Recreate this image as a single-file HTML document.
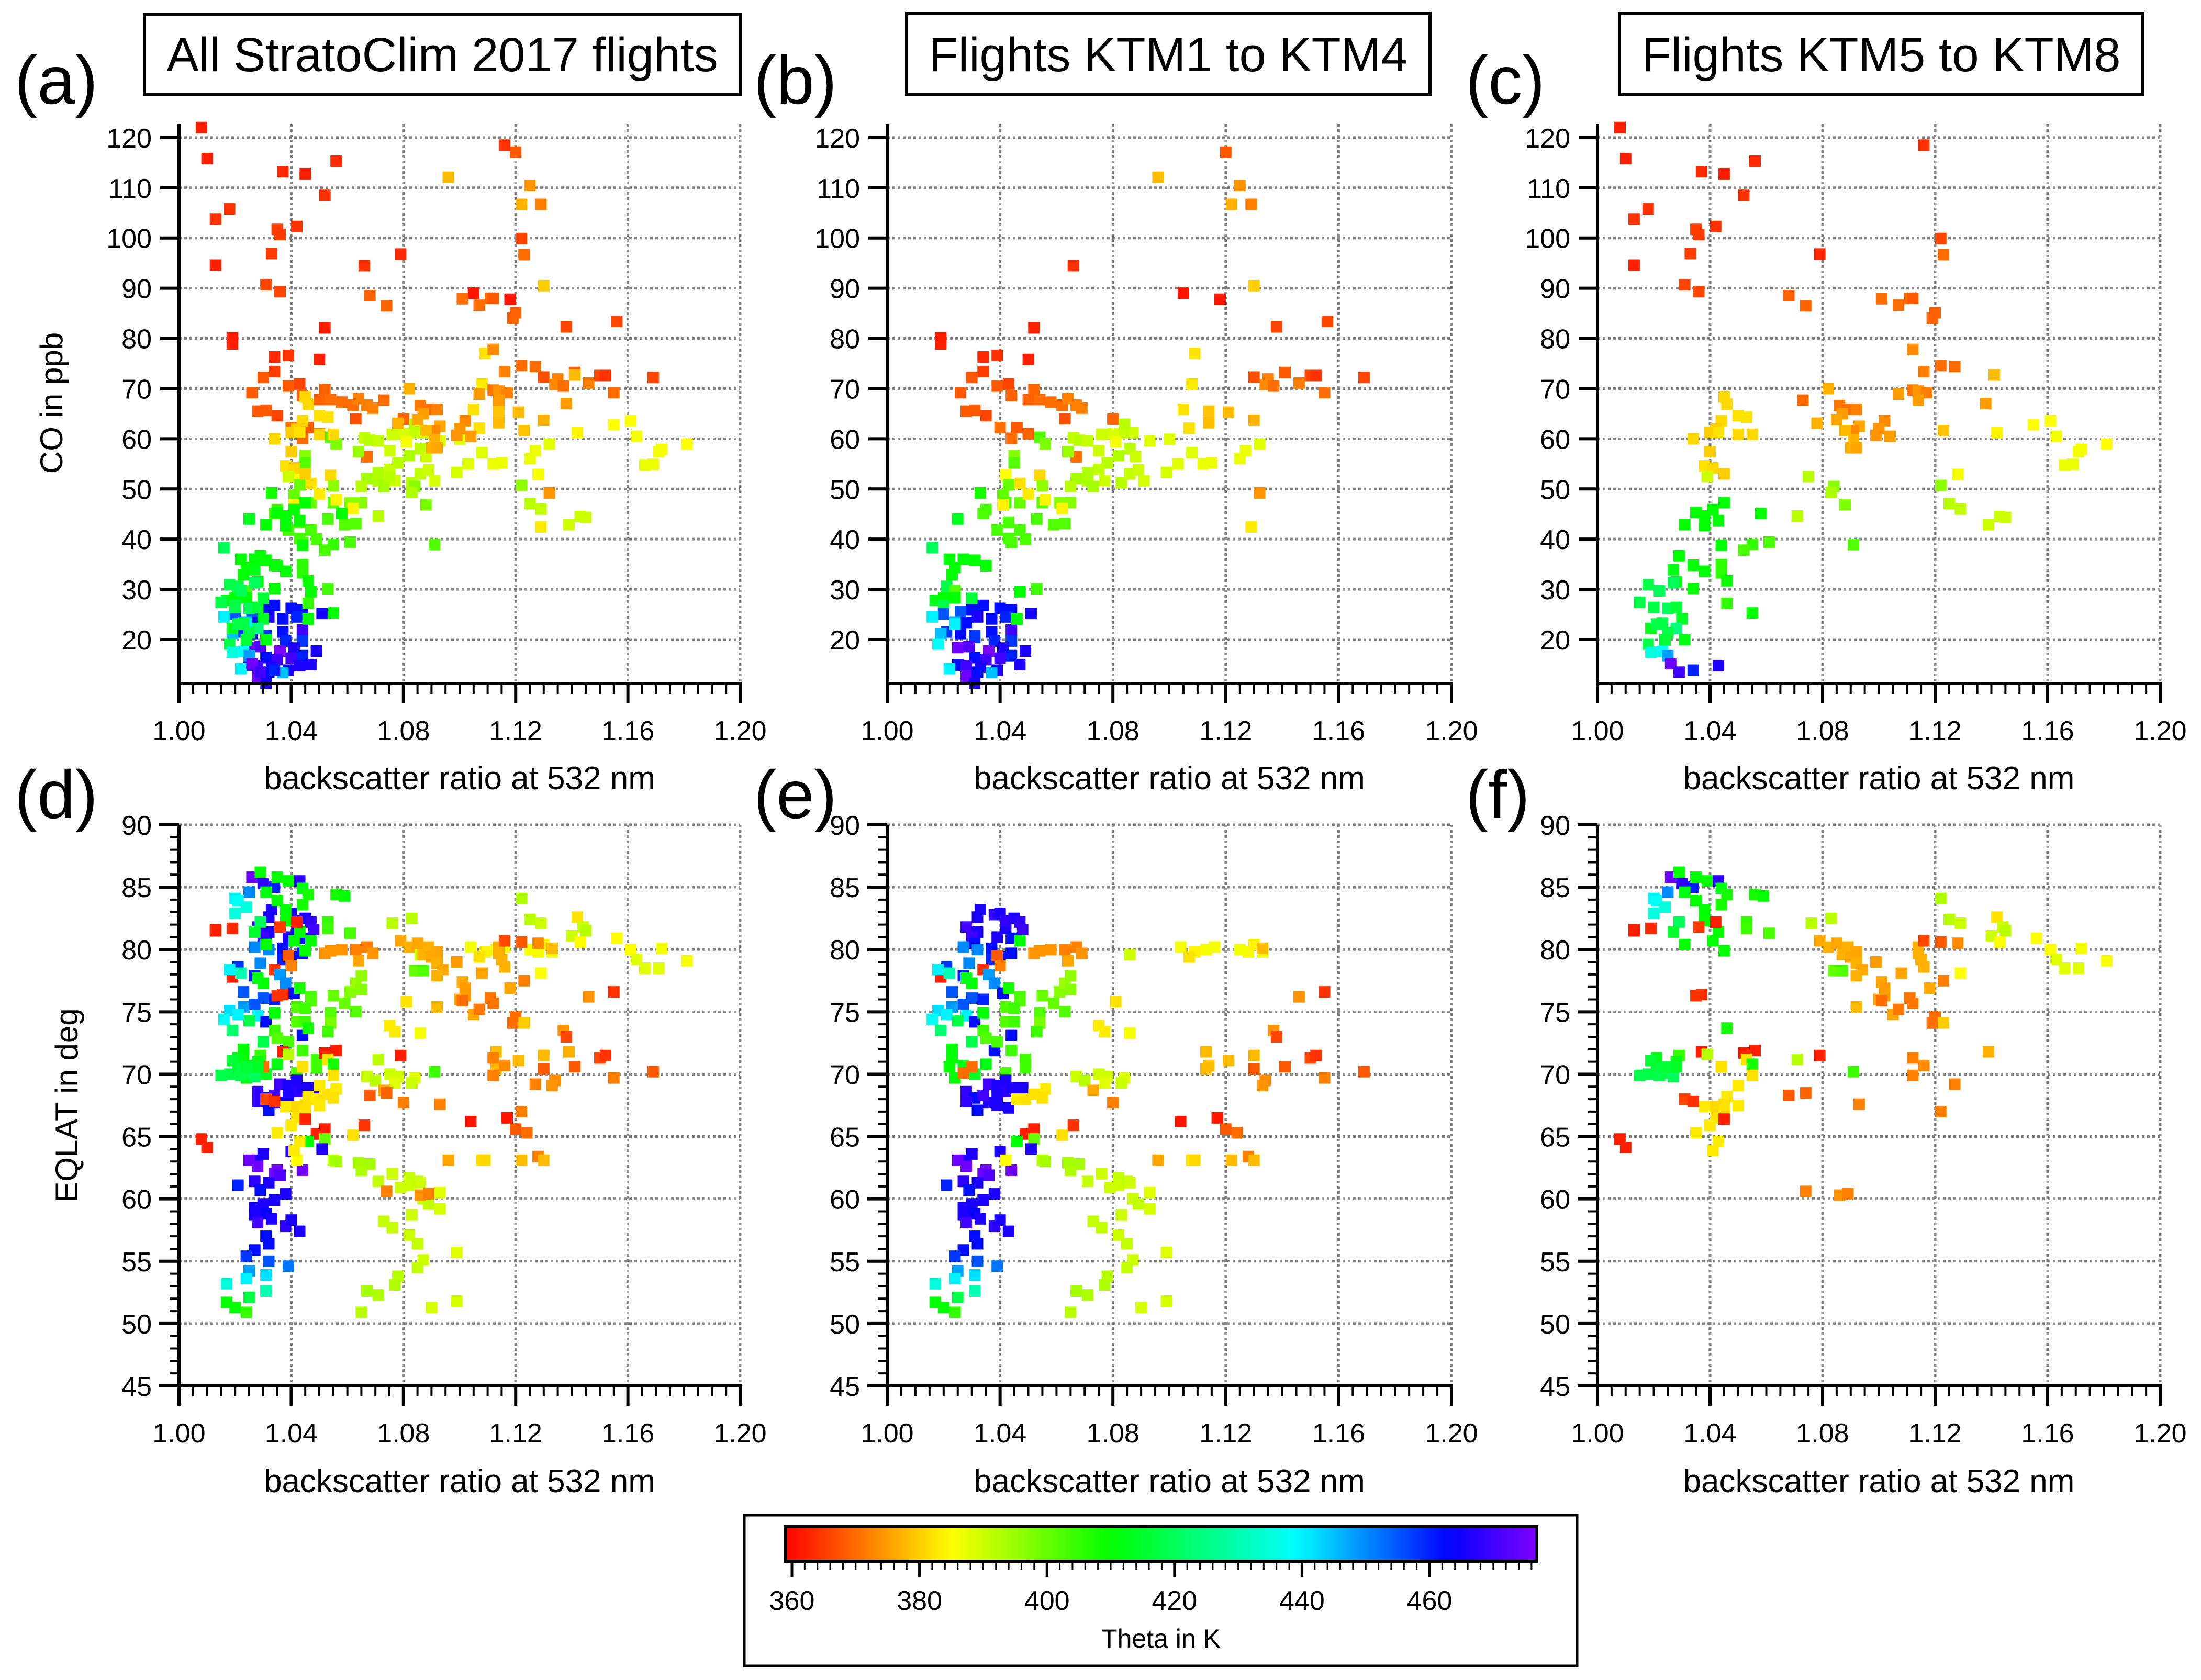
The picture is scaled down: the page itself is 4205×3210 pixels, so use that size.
<!DOCTYPE html>
<html><head><meta charset="utf-8"><style>
html,body{margin:0;padding:0;background:#fff;}
svg{display:block;font-family:"Liberation Sans",Arial,sans-serif;}
</style></head><body>
<svg id="fig" xmlns="http://www.w3.org/2000/svg" width="4205" height="3210" viewBox="0 0 4205 3210">
<rect x="0" y="0" width="4205" height="3210" fill="#fff"/>
<g><rect x="276" y="27" width="1138" height="154" fill="none" stroke="#000" stroke-width="6"/><text x="845" y="136" font-size="92" text-anchor="middle">All StratoClim 2017 flights</text></g>
<g><rect x="1732" y="26" width="1000" height="155" fill="none" stroke="#000" stroke-width="6"/><text x="2232" y="136" font-size="92" text-anchor="middle">Flights KTM1 to KTM4</text></g>
<g><rect x="3094" y="26" width="1000" height="155" fill="none" stroke="#000" stroke-width="6"/><text x="3594" y="136" font-size="92" text-anchor="middle">Flights KTM5 to KTM8</text></g>
<g font-size="130">
<text x="28" y="198">(a)</text><text x="1440" y="198">(b)</text><text x="2800" y="198">(c)</text>
<text x="28" y="1563">(d)</text><text x="1440" y="1563">(e)</text><text x="2800" y="1563">(f)</text>
</g>
<g id="panels"></g>
<g id="cbar"></g>
</svg>
<script>
// ---- data: [backscatter ratio, value, theta K] ----
const coKTM58 = [[1.008,122.0,362],[1.010,115.8,362],[1.037,113.2,363],[1.045,112.8,362],[1.056,115.3,363],[1.116,118.5,364],[1.052,108.5,364],[1.018,105.8,364],[1.013,103.8,364],[1.035,101.7,365],[1.036,100.7,365],[1.042,102.3,364],[1.033,96.9,365],[1.013,94.6,362],[1.079,96.8,363],[1.122,99.9,366],[1.123,96.7,370],[1.031,90.7,366],[1.036,89.3,366],[1.068,88.5,369],[1.074,86.5,369],[1.101,87.9,370],[1.107,86.6,370],[1.111,88.0,370],[1.112,88.0,368],[1.120,85.1,369],[1.119,84.0,369],[1.112,77.8,373],[1.122,74.6,370],[1.127,74.4,370],[1.116,73.4,372],[1.141,72.7,378],[1.082,70.0,377],[1.107,68.9,375],[1.112,69.7,371],[1.114,69.5,374],[1.117,69.2,372],[1.114,67.7,375],[1.138,67.0,375],[1.073,67.7,370],[1.086,66.6,371],[1.089,65.9,370],[1.092,65.9,372],[1.087,65.0,375],[1.085,63.8,376],[1.078,63.1,377],[1.093,62.5,376],[1.091,61.6,373],[1.088,61.6,378],[1.102,63.6,373],[1.100,62.0,374],[1.099,60.7,374],[1.104,60.5,375],[1.091,59.8,377],[1.090,58.2,377],[1.092,58.2,376],[1.123,61.6,379],[1.142,61.2,384],[1.155,62.8,385],[1.161,63.6,385],[1.163,60.5,386],[1.181,59.0,385],[1.172,57.9,386],[1.171,57.4,386],[1.166,54.8,387],[1.169,54.9,387],[1.128,52.9,386],[1.045,68.3,381],[1.046,66.9,381],[1.050,64.6,382],[1.053,64.3,382],[1.044,63.6,381],[1.042,61.9,380],[1.040,61.3,380],[1.043,61.3,382],[1.050,60.9,381],[1.055,60.9,381],[1.034,60.0,381],[1.040,57.4,380],[1.038,54.6,382],[1.041,54.2,381],[1.045,53.0,380],[1.039,52.5,390],[1.075,52.5,392],[1.084,50.5,397],[1.083,49.3,393],[1.122,50.7,396],[1.125,47.1,392],[1.129,46.0,391],[1.143,44.5,390],[1.145,44.3,390],[1.139,42.9,390],[1.088,46.9,398],[1.071,44.6,392],[1.045,47.3,410],[1.041,45.9,410],[1.035,45.3,410],[1.038,44.6,410],[1.043,43.7,410],[1.031,42.9,410],[1.038,42.7,410],[1.058,45.1,410],[1.061,39.4,403],[1.055,39.0,405],[1.052,37.8,403],[1.044,38.8,410],[1.091,38.9,402],[1.029,36.7,410],[1.027,33.9,412],[1.034,34.8,410],[1.038,33.6,410],[1.044,34.9,406],[1.044,33.3,406],[1.046,31.7,409],[1.028,31.5,412],[1.027,31.3,420],[1.034,30.2,410],[1.018,30.9,418],[1.022,29.7,420],[1.015,27.4,418],[1.020,26.4,418],[1.025,26.2,420],[1.028,26.4,416],[1.046,27.2,405],[1.055,25.3,410],[1.030,24.1,414],[1.019,22.2,413],[1.021,23.1,418],[1.023,23.3,418],[1.028,22.2,424],[1.025,21.4,418],[1.024,19.9,416],[1.031,20.0,412],[1.018,19.1,418],[1.019,17.5,435],[1.023,17.6,438],[1.025,16.8,448],[1.026,15.2,475],[1.029,13.5,470],[1.034,13.9,460],[1.043,14.8,466]];
const coKTM14 = [[1.120,117.1,368],[1.096,112.1,378],[1.125,110.5,374],[1.122,106.7,377],[1.129,106.7,372],[1.066,94.5,364],[1.130,90.5,380],[1.105,89.0,361],[1.118,87.8,361],[1.138,82.3,366],[1.156,83.4,366],[1.052,82.1,362],[1.019,80.1,362],[1.019,78.9,362],[1.034,76.3,363],[1.039,76.6,364],[1.050,75.8,362],[1.034,73.4,365],[1.030,72.2,368],[1.026,69.2,368],[1.039,70.5,368],[1.043,70.9,366],[1.052,69.8,369],[1.044,68.6,369],[1.050,67.8,369],[1.054,67.8,370],[1.058,67.3,370],[1.062,66.7,370],[1.064,68.0,372],[1.067,66.7,372],[1.069,66.1,372],[1.028,65.5,368],[1.031,65.7,368],[1.035,64.6,366],[1.063,64.0,367],[1.080,63.9,369],[1.040,62.2,370],[1.046,62.2,368],[1.050,61.0,369],[1.044,60.1,370],[1.067,56.4,370],[1.109,77.0,382],[1.108,70.9,383],[1.105,65.9,382],[1.114,65.5,379],[1.121,65.3,378],[1.114,63.2,378],[1.107,62.1,382],[1.130,63.7,377],[1.130,72.3,367],[1.135,71.9,372],[1.134,70.8,373],[1.137,70.5,370],[1.141,73.2,368],[1.146,71.1,372],[1.150,72.6,366],[1.152,72.6,364],[1.155,69.2,370],[1.169,72.2,366],[1.132,59.0,388],[1.127,57.6,387],[1.125,56.1,387],[1.108,57.2,388],[1.112,55.0,387],[1.115,55.2,387],[1.132,49.2,374],[1.129,42.4,383],
[1.066,60.2,391],[1.068,59.7,392],[1.071,59.6,391],[1.076,60.9,390],[1.080,61.0,389],[1.084,61.2,391],[1.087,61.2,390],[1.084,62.9,392],[1.093,59.6,388],[1.100,59.9,388],[1.075,57.6,390],[1.081,59.4,386],[1.086,58.0,392],[1.088,56.5,390],[1.082,56.7,393],[1.078,55.2,392],[1.075,53.9,391],[1.071,53.2,393],[1.067,52.1,394],[1.071,51.6,393],[1.077,51.7,390],[1.083,51.2,392],[1.086,53.0,391],[1.089,53.8,390],[1.091,51.6,389],[1.099,53.3,389],[1.103,55.0,388],[1.065,50.5,392],[1.073,50.5,394],[1.064,57.4,395],[1.042,52.8,385],[1.054,52.7,381],[1.047,51.1,382],[1.043,50.8,400],[1.055,50.6,396],[1.041,48.8,400],[1.042,47.3,402],[1.047,47.3,400],[1.055,47.3,401],[1.061,47.2,397],[1.065,47.3,397],[1.050,49.0,383],[1.041,46.8,384],[1.056,47.9,384],[1.062,46.1,384],[1.033,49.2,408],[1.035,45.9,403],[1.034,45.1,403],[1.025,44.0,413],[1.043,43.4,403],[1.053,44.0,403],[1.039,41.8,403],[1.047,41.8,403],[1.059,42.9,402],[1.063,43.1,402],[1.043,40.1,403],[1.044,39.3,403],[1.049,40.0,403],[1.054,60.3,402],[1.056,59.0,398],[1.045,56.7,397],[1.045,55.2,402],
[1.016,38.3,420],[1.022,36.0,410],[1.027,36.0,410],[1.031,35.8,410],[1.035,34.7,410],[1.024,34.4,410],[1.023,32.9,410],[1.021,30.6,418],[1.024,29.8,402],[1.047,29.5,410],[1.053,30.1,404],[1.017,27.8,412],[1.020,28.3,410],[1.024,28.3,410],[1.030,28.2,416],[1.020,26.8,418],[1.046,24.0,412],
[1.020,25.1,455],[1.016,24.5,440],[1.026,25.6,455],[1.030,25.9,462],[1.034,26.8,462],[1.040,26.2,462],[1.044,25.9,462],[1.051,25.2,465],[1.024,23.5,445],[1.028,23.4,462],[1.032,24.5,466],[1.037,24.1,462],[1.042,24.5,460],[1.021,21.5,458],[1.026,21.2,462],[1.031,20.8,458],[1.037,21.5,462],[1.044,21.9,470],[1.019,21.2,445],[1.031,20.4,458],[1.038,19.7,460],[1.044,19.7,458],[1.018,19.1,438],[1.025,18.4,475],[1.029,18.6,472],[1.036,17.7,478],[1.041,18.3,466],[1.049,17.7,466],[1.031,16.4,462],[1.035,16.0,470],[1.040,16.3,470],[1.044,16.8,460],[1.025,14.9,462],[1.028,14.8,470],[1.033,14.6,466],[1.039,13.9,466],[1.047,15.0,466],[1.022,14.2,440],[1.028,12.7,475],[1.032,13.5,462],[1.037,13.4,445],[1.031,11.3,466],[1.024,23.1,440],[1.046,24.1,410]];
const eqKTM58 = [[1.026,85.8,475],[1.029,86.2,410],[1.030,85.3,468],[1.034,85.0,460],[1.035,85.8,410],[1.039,85.5,410],[1.043,85.5,468],[1.044,84.9,412],[1.046,84.4,408],[1.031,84.6,412],[1.025,84.6,450],[1.020,84.1,440],[1.021,83.9,438],[1.024,83.4,435],[1.020,82.9,435],[1.035,83.9,410],[1.044,83.6,408],[1.038,83.2,410],[1.038,82.3,410],[1.029,82.2,420],[1.027,81.4,415],[1.031,80.4,410],[1.043,81.4,410],[1.041,80.7,410],[1.045,79.9,410],[1.042,82.2,362],[1.036,81.8,365],[1.013,81.5,362],[1.013,81.6,362],[1.019,81.7,363],[1.056,84.4,408],[1.059,84.3,410],[1.053,82.2,405],[1.053,81.7,404],[1.061,81.3,403],[1.076,82.1,392],[1.083,82.5,392],[1.122,84.1,393],[1.125,82.4,392],[1.129,82.1,390],[1.142,82.6,382],[1.144,81.8,390],[1.145,81.5,392],[1.140,81.1,390],[1.143,80.6,385],[1.156,80.9,385],[1.161,80.0,385],[1.163,79.2,388],[1.166,78.5,388],[1.171,78.5,388],[1.172,80.1,386],[1.181,79.1,386],
[1.079,80.7,376],[1.082,80.2,377],[1.085,80.5,376],[1.089,80.2,377],[1.092,79.8,376],[1.087,79.6,377],[1.090,79.4,376],[1.092,78.9,377],[1.094,78.4,376],[1.092,77.9,377],[1.084,78.3,400],[1.087,78.3,402],[1.099,79.0,375],[1.108,78.1,376],[1.101,77.4,376],[1.102,76.9,375],[1.102,76.3,375],[1.100,76.0,376],[1.101,75.9,370],[1.092,75.4,378],[1.105,74.8,376],[1.107,75.2,371],[1.111,76.1,371],[1.112,75.7,371],[1.114,80.2,377],[1.114,79.7,377],[1.115,79.2,377],[1.116,78.6,377],[1.116,80.7,366],[1.122,80.6,368],[1.128,80.5,373],[1.118,76.9,376],[1.123,77.5,372],[1.129,78.1,385],[1.120,74.6,370],[1.119,74.1,370],[1.123,74.1,380],[1.035,76.3,364],[1.037,76.4,364],[1.046,73.7,408],[1.139,71.8,377],[1.112,71.3,372],[1.116,70.7,373],[1.112,69.9,372],[1.127,69.2,372],[1.091,70.2,404],[1.071,71.2,392],[1.079,71.5,362],[1.093,67.6,372],[1.122,67.0,372],[1.068,68.3,368],[1.074,68.5,369],[1.037,71.8,362],[1.039,71.6,392],[1.052,71.7,362],[1.056,71.9,362],[1.053,71.2,382],[1.055,70.8,408],[1.044,70.6,382],[1.055,69.9,382],[1.029,71.5,405],[1.021,71.3,412],[1.019,71.1,416],[1.028,71.0,412],
[1.015,69.9,418],[1.018,70.0,418],[1.021,70.4,416],[1.023,70.3,418],[1.025,70.1,418],[1.027,69.8,420],[1.022,69.9,418],[1.024,70.6,416],[1.028,70.6,414],
[1.050,69.1,383],[1.046,68.2,383],[1.045,67.6,382],[1.038,67.4,383],[1.042,67.4,381],[1.045,67.1,382],[1.050,67.5,383],[1.042,66.5,382],[1.040,65.9,383],[1.035,65.3,383],[1.043,64.6,383],[1.041,63.9,383],[1.045,66.4,362],[1.031,68.0,366],[1.034,67.8,364],[1.008,64.8,362],[1.010,64.1,362],[1.074,60.6,372],[1.086,60.3,374],[1.089,60.4,372]];
const eqKTM14 = [[1.033,83.2,466],[1.032,82.6,466],[1.038,82.8,468],[1.040,82.9,466],[1.045,82.5,466],[1.047,82.2,468],[1.048,81.6,470],[1.028,81.8,470],[1.032,81.4,466],[1.030,81.0,470],[1.039,81.0,466],[1.042,81.7,466],[1.044,80.9,462],[1.042,82.3,468],[1.031,80.5,462],[1.037,80.1,462],[1.044,79.7,462],[1.037,79.2,460],[1.040,79.4,462],[1.027,80.2,450],[1.032,80.0,450],[1.047,80.7,410],[1.039,79.5,368],[1.034,78.4,364],[1.040,78.7,372],
[1.052,79.7,374],[1.054,79.9,374],[1.058,80.0,374],[1.063,80.0,372],[1.067,80.2,372],[1.069,79.7,374],[1.064,79.1,376],[1.086,79.6,390],[1.104,80.2,386],[1.109,79.8,384],[1.113,80.0,386],[1.116,80.2,386],[1.125,80.0,386],[1.128,79.8,386],[1.130,80.4,384],[1.133,79.8,386],[1.133,80.1,378],[1.107,79.4,382],
[1.021,78.6,458],[1.027,77.9,460],[1.019,77.8,362],[1.018,78.4,440],[1.022,78.1,430],[1.029,78.9,450],[1.036,78.0,448],[1.038,77.3,450],[1.030,77.3,410],[1.028,77.7,412],[1.041,76.5,462],[1.023,76.6,455],[1.030,76.1,455],[1.034,76.0,460],[1.027,75.6,455],[1.023,75.4,448],[1.018,75.1,442],[1.021,74.8,440],[1.016,74.4,438],[1.028,74.7,440],[1.025,74.3,418],[1.031,74.2,462],[1.034,74.9,410],[1.019,73.5,422],[1.030,72.6,418],[1.044,73.1,462],[1.038,71.9,462],
[1.043,76.9,408],[1.047,76.2,403],[1.047,75.9,402],[1.042,75.4,402],[1.045,75.3,404],[1.042,74.2,402],[1.045,74.2,404],[1.034,73.5,404],[1.035,72.9,402],[1.039,72.6,403],[1.044,71.9,404],[1.049,71.2,404],[1.049,70.5,404],[1.055,76.3,400],[1.059,75.7,400],[1.054,74.9,402],[1.054,74.1,398],[1.053,73.4,404],[1.063,75.0,402],[1.061,76.6,397],[1.063,77.3,395],[1.065,76.8,397],[1.065,77.9,396],[1.081,75.8,382],[1.075,73.9,383],[1.077,73.4,383],[1.086,73.3,386],
[1.023,72.0,410],[1.023,71.3,410],[1.022,70.6,410],[1.027,70.7,412],[1.035,70.8,412],[1.024,69.7,410],[1.031,70.0,414],[1.042,70.1,403],[1.030,70.6,370],[1.027,70.1,370],
[1.028,68.6,468],[1.031,68.1,462],[1.036,69.2,470],[1.039,69.1,466],[1.042,69.5,466],[1.048,68.9,466],[1.042,68.6,468],[1.044,68.9,466],[1.028,67.8,468],[1.032,67.1,462],[1.036,67.7,466],[1.039,67.5,466],[1.043,67.3,466],[1.034,68.3,470],[1.039,68.3,466],
[1.067,69.8,390],[1.070,69.5,392],[1.075,70.0,390],[1.078,69.8,390],[1.084,69.7,388],[1.083,69.3,390],[1.077,69.3,388],[1.073,68.7,376],[1.080,67.7,372],[1.046,68.0,383],[1.049,68.0,382],[1.052,68.4,382],[1.056,68.8,383],[1.055,68.1,382],
[1.113,71.8,378],[1.114,70.7,378],[1.113,70.4,378],[1.121,71.1,378],[1.130,71.5,378],[1.130,70.4,368],[1.137,73.5,374],[1.138,73.0,366],[1.141,70.6,368],[1.150,71.3,366],[1.152,71.5,364],[1.155,69.7,372],[1.169,70.2,368],[1.134,69.5,373],[1.133,69.1,374],[1.146,76.2,374],[1.155,76.6,364],
[1.066,65.9,364],[1.052,65.6,362],[1.049,65.2,362],[1.062,65.1,382],[1.104,66.2,361],[1.117,66.5,361],[1.120,65.6,368],[1.124,65.3,370],[1.046,64.6,410],[1.052,64.8,400],[1.040,63.8,466],[1.051,64.0,466],[1.030,63.6,466],[1.028,63.1,466],[1.025,63.1,475],[1.028,62.6,475],[1.035,62.3,475],[1.034,62.0,475],[1.036,61.9,472],[1.044,62.3,475],[1.042,63.1,385],
[1.055,63.1,392],[1.056,63.0,394],[1.064,62.9,394],[1.068,62.8,394],[1.065,62.3,393],[1.096,63.1,376],[1.108,63.1,382],[1.109,63.1,381],[1.122,63.1,378],[1.128,63.4,372],[1.130,63.1,378],
[1.027,61.4,468],[1.032,61.3,466],[1.029,60.7,462],[1.021,61.1,460],
[1.076,62.0,390],[1.071,61.4,391],[1.079,60.9,390],[1.082,61.7,391],[1.082,61.1,390],[1.085,61.4,391],[1.086,61.3,390],[1.093,60.5,388],[1.087,60.0,390],[1.089,59.6,391],[1.093,59.2,389],[1.083,58.7,390],[1.073,58.2,391],[1.076,57.7,391],[1.082,57.1,390],[1.085,56.4,391],[1.099,55.7,388],[1.087,55.1,390],[1.085,54.5,391],[1.078,53.8,392],[1.077,53.1,393],[1.067,52.6,394],[1.071,52.3,393],[1.065,50.9,392],[1.090,51.3,389],[1.099,51.8,389],
[1.027,59.3,466],[1.030,59.6,466],[1.034,59.9,466],[1.038,60.4,466],[1.027,58.7,466],[1.031,58.8,464],[1.033,58.4,466],[1.028,58.1,470],[1.038,57.8,468],[1.040,58.3,466],[1.043,57.4,466],[1.031,57.0,462],[1.032,56.4,462],[1.027,55.9,462],[1.024,55.4,458],[1.032,55.0,455],
[1.039,54.6,452],[1.025,54.2,448],[1.031,53.9,442],[1.024,53.6,440],[1.017,53.2,435],[1.031,52.6,430],[1.025,52.1,418],[1.017,51.7,410],[1.020,51.3,410],[1.024,50.9,405]];
const xTickLabels = ["1.00","1.04","1.08","1.12","1.16","1.20"];
const xTicks = [1.00,1.04,1.08,1.12,1.16,1.20];
const coTicks = [20,30,40,50,60,70,80,90,100,110,120];
const eqTicks = [45,50,55,60,65,70,75,80,85,90];
const thetaTicks = [360,380,400,420,440,460];
const cmapTheta = [359,372,385,410,439,463,477];
const cmapColors = [[255,0,0],[255,128,0],[255,255,0],[0,255,0],[0,255,255],[0,0,255],[128,0,255]];

const NS="http://www.w3.org/2000/svg";
function mk(tag, attrs, parent){const e=document.createElementNS(NS,tag);for(const k in attrs)e.setAttribute(k,attrs[k]);parent.appendChild(e);return e;}
function color(t){
  if(t<=cmapTheta[0])return "rgb("+cmapColors[0]+")";
  for(let i=1;i<cmapTheta.length;i++){if(t<=cmapTheta[i]){const f=(t-cmapTheta[i-1])/(cmapTheta[i]-cmapTheta[i-1]);const a=cmapColors[i-1],b=cmapColors[i];return "rgb("+a.map((v,j)=>Math.round(v+(b[j]-v)*f)).join(",")+")";}}
  return "rgb("+cmapColors[cmapColors.length-1]+")";
}
const panelsG=document.getElementById('panels');
const colX=[[342,1414],[1695,2773],[3052,4127]];
function drawPanel(name,col,row,datasets){
  const [x0,x1]=colX[col];
  const top=row===0;
  const yMin=top?11.24:45, yMax=top?122.7:90;
  const py0=top?1306:2648, py1=top?237:1576;
  const sx=v=>x0+(v-1.0)/(0.2)*(x1-x0);
  const sy=v=>py0-(v-yMin)/(yMax-yMin)*(py0-py1);
  const g=mk('g',{},panelsG);
  
  
  const grid=mk('g',{stroke:'#888','stroke-width':5,'stroke-dasharray':'5 5',fill:'none'},g);
  
  
  const yt=top?coTicks:eqTicks;
  yt.forEach(v=>{const y=sy(v);mk('line',{x1:x0,x2:x1,y1:y,y2:y},grid);});
  xTicks.forEach(v=>{if(v>1.0){const x=sx(v);mk('line',{x1:x,x2:x,y1:py1,y2:py0},grid);}});
  const pts=mk('g',{},g);
  
  
  const s=22;
  datasets.forEach(ds=>ds.forEach(p=>{
    const r=mk('rect',{x:(sx(p[0])-s/2).toFixed(1),y:(sy(p[1])-s/2).toFixed(1),width:s,height:s,fill:color(p[2])},pts);
    
    
  }));
  const ax=mk('g',{stroke:'#000','stroke-width':6,fill:'none'},g);
  
  
  mk('line',{x1:x0,x2:x0,y1:py1,y2:py0+3},ax);
  mk('line',{x1:x0-3,x2:x1+3,y1:py0,y2:py0},ax);
  for(let i=0;i<=40;i++){const v=1+i*0.005;const x=sx(v);const major=i%8===0;mk('line',{x1:x,x2:x,y1:py0,y2:py0+(major?38:20),'stroke-width':major?6:4},ax);}
  if(!top){for(let v=45;v<=90;v++){const y=sy(v);const major=v%5===0;mk('line',{x1:x0,x2:x0-(major?38:18),y1:y,y2:y,'stroke-width':major?6:4},ax);}}
  else{coTicks.forEach(v=>{const y=sy(v);mk('line',{x1:x0,x2:x0-36,y1:y,y2:y},ax);});}
  const lab=mk('g',{'font-size':52,fill:'#000'},g);
  
  
  xTicks.forEach((v,i)=>{const t=mk('text',{x:sx(v),y:py0+108,'text-anchor':'middle'},lab);t.textContent=xTickLabels[i];});
  yt.forEach(v=>{const t=mk('text',{x:x0-52,y:sy(v)+19,'text-anchor':'end'},lab);t.textContent=String(v);});
  const xt=mk('text',{x:(x0+x1)/2,y:top?1508:2851,'text-anchor':'middle','font-size':62},g);
  xt.textContent='backscatter ratio at  532 nm';
  
  
  if(col===0){
    const cx=top?98:127, cy=top?770:2112;
    const ytl=mk('text',{x:cx,y:cy,'text-anchor':'middle','font-size':60,transform:'rotate(-90 '+cx+' '+cy+')',dy:21},g);
    ytl.textContent=top?'CO in ppb':'EQLAT in deg';
    
    
  }
}
drawPanel('panel-a',0,0,[coKTM14,coKTM58]);
drawPanel('panel-b',1,0,[coKTM14]);
drawPanel('panel-c',2,0,[coKTM58]);
drawPanel('panel-d',0,1,[eqKTM14,eqKTM58]);
drawPanel('panel-e',1,1,[eqKTM14]);
drawPanel('panel-f',2,1,[eqKTM58]);

// colorbar
const cb=document.getElementById('cbar');
mk('rect',{x:1422,y:2895,width:1591,height:288,fill:'#fff',stroke:'#000','stroke-width':5},cb);
const defs=mk('defs',{},cb);
const lg=mk('linearGradient',{id:'rb',x1:0,x2:1,y1:0,y2:0},defs);
const cbx0=1500,cbx1=2936;
const ct=v=>1513+(v-360)/100*(2731-1513);
const tmin=360+(cbx0-1513)/12.18, tmax=360+(cbx1-1513)/12.18;
for(let i=0;i<=40;i++){const t=tmin+(tmax-tmin)*i/40;mk('stop',{offset:(i/40).toFixed(3),'stop-color':color(t)},lg);}
const bar=mk('rect',{x:cbx0,y:2917,width:cbx1-cbx0,height:66,fill:'url(#rb)',stroke:'#000','stroke-width':6},cb);


for(let v=360;v<=476;v+=2){const x=ct(v);const major=(v-360)%20===0;mk('line',{x1:x,x2:x,y1:2983,y2:major?3013:2999,stroke:'#000','stroke-width':major?5:3},cb);}
thetaTicks.forEach(v=>{const t=mk('text',{x:ct(v),y:3076,'text-anchor':'middle','font-size':52},cb);t.textContent=String(v);});
const tl=mk('text',{x:2218,y:3148,'text-anchor':'middle','font-size':50},cb);
tl.textContent='Theta in K';


</script>
</body></html>
